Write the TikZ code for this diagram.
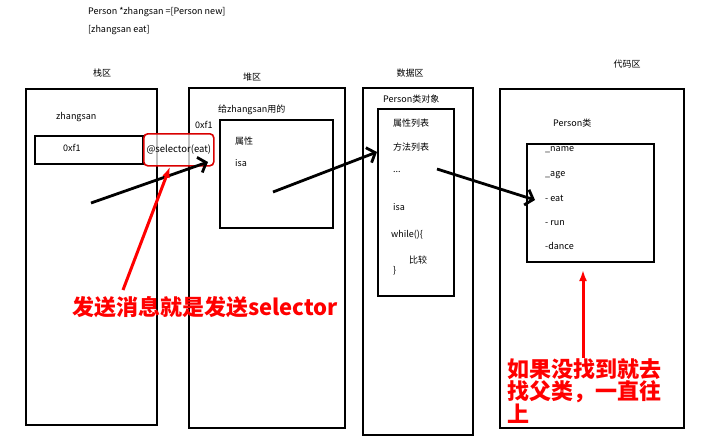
\documentclass[tikz,border=0pt]{standalone}
\usepackage{fontspec}
\setmainfont{Noto Sans CJK SC}
\usetikzlibrary{arrows.meta,positioning}

\begin{document}
\begin{tikzpicture}[x=1pt, y=-1pt,
    every node/.style = {font=\fontsize{9}{11}\selectfont, inner sep=0pt},
    area/.style = {draw, line width=2pt, anchor=north west},
    lbl/.style = {anchor=west},
    ptr/.style = {line width=2.8pt, -{Straight Barb[length=7pt,width=16pt]}},
    note/.style = {text=red, font=\fontsize{22}{22.5}\selectfont\bfseries, align=left},
    hint/.style = {red, line width=3pt, -{Latex[length=11pt,width=8pt]}}]
    \useasboundingbox (0,0) rectangle (702,447);
    % source lines
    \node[lbl] (src1) at (88,12) {Person *zhangsan =[Person new]};
    \node[lbl] (src2) at (88,30) {[zhangsan eat]};
    % memory areas
    \node (stacktitle) at (102,73) {栈区};
    \node (heaptitle) at (252,77) {堆区};
    \node (datatitle) at (410,73) {数据区};
    \node (codetitle) at (627,64) {代码区};
    \node[area, minimum width=131, minimum height=336] (stack) at (25,88) {};
    \node[area, minimum width=156, minimum height=340] (heap) at (188,87) {};
    \node[area, minimum width=110, minimum height=347] (data) at (362,87) {};
    \node[area, minimum width=184, minimum height=339] (code) at (499,88) {};
    % stack
    \node[lbl] (var) at (56,117) {zhangsan};
    \node[area, minimum width=108, minimum height=28] (cell) at (34,135) {};
    \node[lbl] (addr) at (63,148) {0xf1};
    \node[draw=red!85!black, line width=1.6pt, rounded corners=4pt, fill=white, fill opacity=0.75,
          text opacity=1, anchor=north west, minimum width=70, minimum height=32,
          font=\fontsize{9.5}{11}\selectfont] (sel) at (143,133) {@selector(eat)};
    % heap
    \node[lbl] (owner) at (218,110) {给zhangsan用的};
    \node[lbl] (heapaddr) at (195,125) {0xf1};
    \node[area, minimum width=113, minimum height=108] (obj) at (219,119) {};
    \node[lbl] (props) at (235,141) {属性};
    \node[lbl] (objisa) at (235,163) {isa};
    % data
    \node[lbl] (clsobjtitle) at (383,99) {Person类对象};
    \node[area, minimum width=76, minimum height=187] (clsobj) at (377,108) {};
    \node[lbl] (proplist) at (393,123) {属性列表};
    \node[lbl] (methlist) at (393,147) {方法列表};
    \node[lbl] (dots) at (393,172) {...};
    \node[lbl] (clsisa) at (393,207) {isa};
    \node[lbl] (loop) at (391,235) {while()\{};
    \node[lbl] (cmp) at (409,260) {比较};
    \node[lbl] (loopend) at (393,271) {\}};
    % code
    \node[lbl] (clstitle) at (553,123) {Person类};
    \node[area, minimum width=127, minimum height=118] (clsdef) at (526,143) {};
    \node[lbl] (mname) at (545,150) {\_name};
    \node[lbl] (mage) at (545,175) {\_age};
    \node[lbl] (meat) at (545,198) {- eat};
    \node[lbl] (mrun) at (545,223) {- run};
    \node[lbl] (mdance) at (545,246) {-dance};
    % notes
    \node[note, anchor=west] (sendnote) at (72,307) {发送消息就是发送selector};
    \node[note, anchor=north west] (supernote) at (507,358) {如果没找到就去\\找父类，一直往\\上};
    % pointers
    \coordinate (p1) at (91,203);
    \coordinate (p2) at (273,192);
    \coordinate (p3) at (437,169);
    \draw[ptr] (p1) -- (208,162);
    \draw[ptr] (p2) -- (clsobj.west |- 0,152);
    \draw[ptr] (p3) -- (535,200);
    \draw[hint] (123,290) -- (sel.south -| 170,0);
    \draw[hint] (supernote.north -| 583,0) -- (583,270);
\end{tikzpicture}
\end{document}
